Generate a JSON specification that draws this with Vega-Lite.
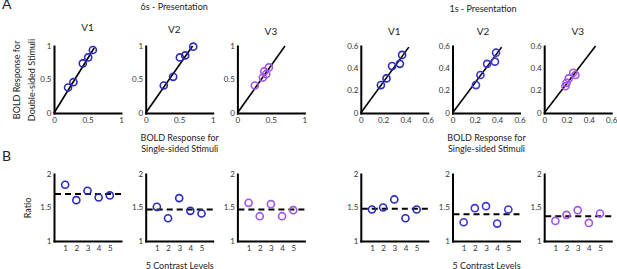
{
  "$schema": "https://vega.github.io/schema/vega-lite/v6.json",
  "padding": {"left": 2, "top": -3, "right": 0, "bottom": 0},
  "config": {
    "font": "Lato",
    "view": {"stroke": null},
    "axis": {"grid": false, "domainColor": "black", "domainWidth": 2, "domainCap": "square", "ticks": false, "tickSize": 0, "labelFontSize": 8, "labelColor": "#333", "labelPadding": 3, "labelFlush": false, "labelOverlap": false, "format": "~g", "titleFontSize": 9, "titleFontWeight": "normal", "titleColor": "#222", "titleLineHeight": 11},
    "title": {"fontSize": 10, "fontWeight": "normal", "color": "#222", "offset": 5},
    "point": {"shape": "circle", "filled": false, "size": 50, "strokeWidth": 1.6, "opacity": 1}
  },
  "datasets": {
    "scatter": [
      {"panel": "6s-V1", "single": 0.21, "double": 0.38},
      {"panel": "6s-V1", "single": 0.29, "double": 0.46},
      {"panel": "6s-V1", "single": 0.43, "double": 0.74},
      {"panel": "6s-V1", "single": 0.51, "double": 0.83},
      {"panel": "6s-V1", "single": 0.58, "double": 0.94},
      {"panel": "6s-V2", "single": 0.27, "double": 0.41},
      {"panel": "6s-V2", "single": 0.41, "double": 0.54},
      {"panel": "6s-V2", "single": 0.51, "double": 0.83},
      {"panel": "6s-V2", "single": 0.59, "double": 0.86},
      {"panel": "6s-V2", "single": 0.71, "double": 0.99},
      {"panel": "6s-V3", "single": 0.26, "double": 0.41},
      {"panel": "6s-V3", "single": 0.38, "double": 0.53},
      {"panel": "6s-V3", "single": 0.40, "double": 0.62},
      {"panel": "6s-V3", "single": 0.43, "double": 0.58},
      {"panel": "6s-V3", "single": 0.47, "double": 0.68},
      {"panel": "1s-V1", "single": 0.18, "double": 0.25},
      {"panel": "1s-V1", "single": 0.23, "double": 0.31},
      {"panel": "1s-V1", "single": 0.28, "double": 0.42},
      {"panel": "1s-V1", "single": 0.35, "double": 0.44},
      {"panel": "1s-V1", "single": 0.37, "double": 0.52},
      {"panel": "1s-V2", "single": 0.21, "double": 0.25},
      {"panel": "1s-V2", "single": 0.25, "double": 0.34},
      {"panel": "1s-V2", "single": 0.31, "double": 0.44},
      {"panel": "1s-V2", "single": 0.38, "double": 0.46},
      {"panel": "1s-V2", "single": 0.39, "double": 0.54},
      {"panel": "1s-V3", "single": 0.19, "double": 0.24},
      {"panel": "1s-V3", "single": 0.20, "double": 0.27},
      {"panel": "1s-V3", "single": 0.22, "double": 0.31},
      {"panel": "1s-V3", "single": 0.26, "double": 0.36},
      {"panel": "1s-V3", "single": 0.28, "double": 0.34}
    ],
    "diag": [
      {"panel": "6s-V1", "single": 0, "double": 0}, {"panel": "6s-V1", "single": 0.60, "double": 0.97},
      {"panel": "6s-V2", "single": 0, "double": 0}, {"panel": "6s-V2", "single": 0.70, "double": 1.0},
      {"panel": "6s-V3", "single": 0, "double": 0}, {"panel": "6s-V3", "single": 0.71, "double": 1.0},
      {"panel": "1s-V1", "single": 0, "double": 0}, {"panel": "1s-V1", "single": 0.43, "double": 0.59},
      {"panel": "1s-V2", "single": 0, "double": 0}, {"panel": "1s-V2", "single": 0.44, "double": 0.59},
      {"panel": "1s-V3", "single": 0, "double": 0}, {"panel": "1s-V3", "single": 0.46, "double": 0.60}
    ],
    "ratio": [
      {"panel": "6s-V1", "level": 1, "ratio": 1.84}, {"panel": "6s-V1", "level": 2, "ratio": 1.61}, {"panel": "6s-V1", "level": 3, "ratio": 1.75}, {"panel": "6s-V1", "level": 4, "ratio": 1.65}, {"panel": "6s-V1", "level": 5, "ratio": 1.68},
      {"panel": "6s-V2", "level": 1, "ratio": 1.51}, {"panel": "6s-V2", "level": 2, "ratio": 1.34}, {"panel": "6s-V2", "level": 3, "ratio": 1.64}, {"panel": "6s-V2", "level": 4, "ratio": 1.45}, {"panel": "6s-V2", "level": 5, "ratio": 1.41},
      {"panel": "6s-V3", "level": 1, "ratio": 1.57}, {"panel": "6s-V3", "level": 2, "ratio": 1.37}, {"panel": "6s-V3", "level": 3, "ratio": 1.55}, {"panel": "6s-V3", "level": 4, "ratio": 1.37}, {"panel": "6s-V3", "level": 5, "ratio": 1.46},
      {"panel": "1s-V1", "level": 1, "ratio": 1.47}, {"panel": "1s-V1", "level": 2, "ratio": 1.50}, {"panel": "1s-V1", "level": 3, "ratio": 1.62}, {"panel": "1s-V1", "level": 4, "ratio": 1.34}, {"panel": "1s-V1", "level": 5, "ratio": 1.47},
      {"panel": "1s-V2", "level": 1, "ratio": 1.28}, {"panel": "1s-V2", "level": 2, "ratio": 1.49}, {"panel": "1s-V2", "level": 3, "ratio": 1.52}, {"panel": "1s-V2", "level": 4, "ratio": 1.26}, {"panel": "1s-V2", "level": 5, "ratio": 1.47},
      {"panel": "1s-V3", "level": 1, "ratio": 1.30}, {"panel": "1s-V3", "level": 2, "ratio": 1.39}, {"panel": "1s-V3", "level": 3, "ratio": 1.46}, {"panel": "1s-V3", "level": 4, "ratio": 1.27}, {"panel": "1s-V3", "level": 5, "ratio": 1.41}
    ],
    "mean": [
      {"panel": "6s-V1", "ratio": 1.70},
      {"panel": "6s-V2", "ratio": 1.47},
      {"panel": "6s-V3", "ratio": 1.47},
      {"panel": "1s-V1", "ratio": 1.48},
      {"panel": "1s-V2", "ratio": 1.40},
      {"panel": "1s-V3", "ratio": 1.37}
    ],
    "none": []
  },
  "title": {"text": "A", "anchor": "start", "frame": "group", "fontSize": 14, "offset": -9, "dx": -52},
  "bounds": "flush",
  "align": "each",
  "columns": 7,
  "spacing": {"row": 61, "column": 24.7},
  "concat": [
    {
      "width": 67, "height": 67, "title": "V1",
      "encoding": {
        "x": {"field": "single", "type": "quantitative", "scale": {"domain": [0, 1]}, "axis": {"values": [0, 0.5, 1], "labelOverlap": false, "title": null}},
        "y": {"field": "double", "type": "quantitative", "scale": {"domain": [0, 1]}, "axis": {"values": [0, 0.5, 1], "labelOverlap": false, "title": ["BOLD Response for", "Double-sided Stimuli"], "titleLineHeight": 15, "titlePadding": 3}}
      },
      "layer": [
        {"data": {"name": "diag"}, "transform": [{"filter": "datum.panel == '6s-V1'"}], "mark": {"type": "line", "color": "black", "strokeWidth": 1.6}},
        {"data": {"name": "scatter"}, "transform": [{"filter": "datum.panel == '6s-V1'"}], "mark": {"type": "point", "color": "#2a2ab8"}}
      ]
    },
    {
      "width": 67, "height": 67,
      "title": {"text": "6s - Presentation", "subtitle": "V2", "fontSize": 9, "subtitleFontSize": 10, "subtitleColor": "#222", "subtitlePadding": 13, "dx": -5},
      "encoding": {
        "x": {"field": "single", "type": "quantitative", "scale": {"domain": [0, 1]}, "axis": {"values": [0, 0.5, 1], "labelOverlap": false, "title": ["BOLD Response for", "Single-sided Stimuli"], "titlePadding": 9}},
        "y": {"field": "double", "type": "quantitative", "scale": {"domain": [0, 1]}, "axis": {"values": [0, 0.5, 1], "labelOverlap": false, "title": null}}
      },
      "layer": [
        {"data": {"name": "diag"}, "transform": [{"filter": "datum.panel == '6s-V2'"}], "mark": {"type": "line", "color": "black", "strokeWidth": 1.6}},
        {"data": {"name": "scatter"}, "transform": [{"filter": "datum.panel == '6s-V2'"}], "mark": {"type": "point", "color": "#2a2ab8"}}
      ]
    },
    {
      "width": 67, "height": 67, "title": "V3",
      "encoding": {
        "x": {"field": "single", "type": "quantitative", "scale": {"domain": [0, 1]}, "axis": {"values": [0, 0.5, 1], "labelOverlap": false, "title": null}},
        "y": {"field": "double", "type": "quantitative", "scale": {"domain": [0, 1]}, "axis": {"values": [0, 0.5, 1], "labelOverlap": false, "title": null}}
      },
      "layer": [
        {"data": {"name": "diag"}, "transform": [{"filter": "datum.panel == '6s-V3'"}], "mark": {"type": "line", "color": "black", "strokeWidth": 1.6}},
        {"data": {"name": "scatter"}, "transform": [{"filter": "datum.panel == '6s-V3'"}], "mark": {"type": "point", "color": "#a254e8"}}
      ]
    },
    {"width": 7, "height": 67, "data": {"name": "none"}, "mark": {"type": "point", "opacity": 0}, "encoding": {}},
    {
      "width": 67, "height": 67, "title": "V1",
      "encoding": {
        "x": {"field": "single", "type": "quantitative", "scale": {"domain": [0, 0.6]}, "axis": {"values": [0, 0.2, 0.4, 0.6], "labelOverlap": false, "title": null}},
        "y": {"field": "double", "type": "quantitative", "scale": {"domain": [0, 0.6]}, "axis": {"values": [0, 0.2, 0.4, 0.6], "labelOverlap": false, "title": null}}
      },
      "layer": [
        {"data": {"name": "diag"}, "transform": [{"filter": "datum.panel == '1s-V1'"}], "mark": {"type": "line", "color": "black", "strokeWidth": 1.6}},
        {"data": {"name": "scatter"}, "transform": [{"filter": "datum.panel == '1s-V1'"}], "mark": {"type": "point", "color": "#2a2ab8"}}
      ]
    },
    {
      "width": 67, "height": 67,
      "title": {"text": "1s - Presentation", "subtitle": "V2", "fontSize": 9, "subtitleFontSize": 10, "subtitleColor": "#222", "subtitlePadding": 13, "dx": -3},
      "encoding": {
        "x": {"field": "single", "type": "quantitative", "scale": {"domain": [0, 0.6]}, "axis": {"values": [0, 0.2, 0.4, 0.6], "labelOverlap": false, "title": ["BOLD Response for", "Single-sided Stimuli"], "titlePadding": 9}},
        "y": {"field": "double", "type": "quantitative", "scale": {"domain": [0, 0.6]}, "axis": {"values": [0, 0.2, 0.4, 0.6], "labelOverlap": false, "title": null}}
      },
      "layer": [
        {"data": {"name": "diag"}, "transform": [{"filter": "datum.panel == '1s-V2'"}], "mark": {"type": "line", "color": "black", "strokeWidth": 1.6}},
        {"data": {"name": "scatter"}, "transform": [{"filter": "datum.panel == '1s-V2'"}], "mark": {"type": "point", "color": "#3c34d0"}}
      ]
    },
    {
      "width": 67, "height": 67, "title": "V3",
      "encoding": {
        "x": {"field": "single", "type": "quantitative", "scale": {"domain": [0, 0.6]}, "axis": {"values": [0, 0.2, 0.4, 0.6], "labelOverlap": false, "title": null}},
        "y": {"field": "double", "type": "quantitative", "scale": {"domain": [0, 0.6]}, "axis": {"values": [0, 0.2, 0.4, 0.6], "labelOverlap": false, "title": null}}
      },
      "layer": [
        {"data": {"name": "diag"}, "transform": [{"filter": "datum.panel == '1s-V3'"}], "mark": {"type": "line", "color": "black", "strokeWidth": 1.6}},
        {"data": {"name": "scatter"}, "transform": [{"filter": "datum.panel == '1s-V3'"}], "mark": {"type": "point", "color": "#a254e8"}}
      ]
    },
    {
      "width": 67, "height": 67,
      "title": {"text": "B", "anchor": "start", "frame": "group", "fontSize": 14, "offset": 6, "dx": -52},
      "encoding": {"y": {"field": "ratio", "type": "quantitative", "scale": {"domain": [1, 2]}, "axis": {"values": [1, 1.5, 2], "labelOverlap": false, "title": "Ratio", "titlePadding": 7}}},
      "layer": [
        {"data": {"name": "mean"}, "transform": [{"filter": "datum.panel == '6s-V1'"}], "mark": {"type": "rule", "color": "black", "strokeWidth": 2, "strokeDash": [6, 4]}},
        {"data": {"name": "ratio"}, "transform": [{"filter": "datum.panel == '6s-V1'"}], "mark": {"type": "point", "color": "#2a2ab8"},
         "encoding": {"x": {"field": "level", "type": "quantitative", "scale": {"domain": [0, 6]}, "axis": {"values": [1, 2, 3, 4, 5], "title": null}}}}
      ]
    },
    {
      "width": 67, "height": 67,
      "encoding": {"y": {"field": "ratio", "type": "quantitative", "scale": {"domain": [1, 2]}, "axis": {"values": [1, 1.5, 2], "labelOverlap": false, "title": null}}},
      "layer": [
        {"data": {"name": "mean"}, "transform": [{"filter": "datum.panel == '6s-V2'"}], "mark": {"type": "rule", "color": "black", "strokeWidth": 2, "strokeDash": [6, 4]}},
        {"data": {"name": "ratio"}, "transform": [{"filter": "datum.panel == '6s-V2'"}], "mark": {"type": "point", "color": "#2a2ab8"},
         "encoding": {"x": {"field": "level", "type": "quantitative", "scale": {"domain": [0, 6]}, "axis": {"values": [1, 2, 3, 4, 5], "title": "5 Contrast Levels", "titlePadding": 9}}}}
      ]
    },
    {
      "width": 67, "height": 67,
      "encoding": {"y": {"field": "ratio", "type": "quantitative", "scale": {"domain": [1, 2]}, "axis": {"values": [1, 1.5, 2], "labelOverlap": false, "title": null}}},
      "layer": [
        {"data": {"name": "mean"}, "transform": [{"filter": "datum.panel == '6s-V3'"}], "mark": {"type": "rule", "color": "black", "strokeWidth": 2, "strokeDash": [6, 4]}},
        {"data": {"name": "ratio"}, "transform": [{"filter": "datum.panel == '6s-V3'"}], "mark": {"type": "point", "color": "#a254e8"},
         "encoding": {"x": {"field": "level", "type": "quantitative", "scale": {"domain": [0, 6]}, "axis": {"values": [1, 2, 3, 4, 5], "title": null}}}}
      ]
    },
    {"width": 7, "height": 67, "data": {"name": "none"}, "mark": {"type": "point", "opacity": 0}, "encoding": {}},
    {
      "width": 67, "height": 67,
      "encoding": {"y": {"field": "ratio", "type": "quantitative", "scale": {"domain": [1, 2]}, "axis": {"values": [1, 1.5, 2], "labelOverlap": false, "title": null}}},
      "layer": [
        {"data": {"name": "mean"}, "transform": [{"filter": "datum.panel == '1s-V1'"}], "mark": {"type": "rule", "color": "black", "strokeWidth": 2, "strokeDash": [6, 4]}},
        {"data": {"name": "ratio"}, "transform": [{"filter": "datum.panel == '1s-V1'"}], "mark": {"type": "point", "color": "#2a2ab8"},
         "encoding": {"x": {"field": "level", "type": "quantitative", "scale": {"domain": [0, 6]}, "axis": {"values": [1, 2, 3, 4, 5], "title": null}}}}
      ]
    },
    {
      "width": 67, "height": 67,
      "encoding": {"y": {"field": "ratio", "type": "quantitative", "scale": {"domain": [1, 2]}, "axis": {"values": [1, 1.5, 2], "labelOverlap": false, "title": null}}},
      "layer": [
        {"data": {"name": "mean"}, "transform": [{"filter": "datum.panel == '1s-V2'"}], "mark": {"type": "rule", "color": "black", "strokeWidth": 2, "strokeDash": [6, 4]}},
        {"data": {"name": "ratio"}, "transform": [{"filter": "datum.panel == '1s-V2'"}], "mark": {"type": "point", "color": "#3c34d0"},
         "encoding": {"x": {"field": "level", "type": "quantitative", "scale": {"domain": [0, 6]}, "axis": {"values": [1, 2, 3, 4, 5], "title": "5 Contrast Levels", "titlePadding": 9}}}}
      ]
    },
    {
      "width": 67, "height": 67,
      "encoding": {"y": {"field": "ratio", "type": "quantitative", "scale": {"domain": [1, 2]}, "axis": {"values": [1, 1.5, 2], "labelOverlap": false, "title": null}}},
      "layer": [
        {"data": {"name": "mean"}, "transform": [{"filter": "datum.panel == '1s-V3'"}], "mark": {"type": "rule", "color": "black", "strokeWidth": 2, "strokeDash": [6, 4]}},
        {"data": {"name": "ratio"}, "transform": [{"filter": "datum.panel == '1s-V3'"}], "mark": {"type": "point", "color": "#a254e8"},
         "encoding": {"x": {"field": "level", "type": "quantitative", "scale": {"domain": [0, 6]}, "axis": {"values": [1, 2, 3, 4, 5], "title": null}}}}
      ]
    }
  ]
}
